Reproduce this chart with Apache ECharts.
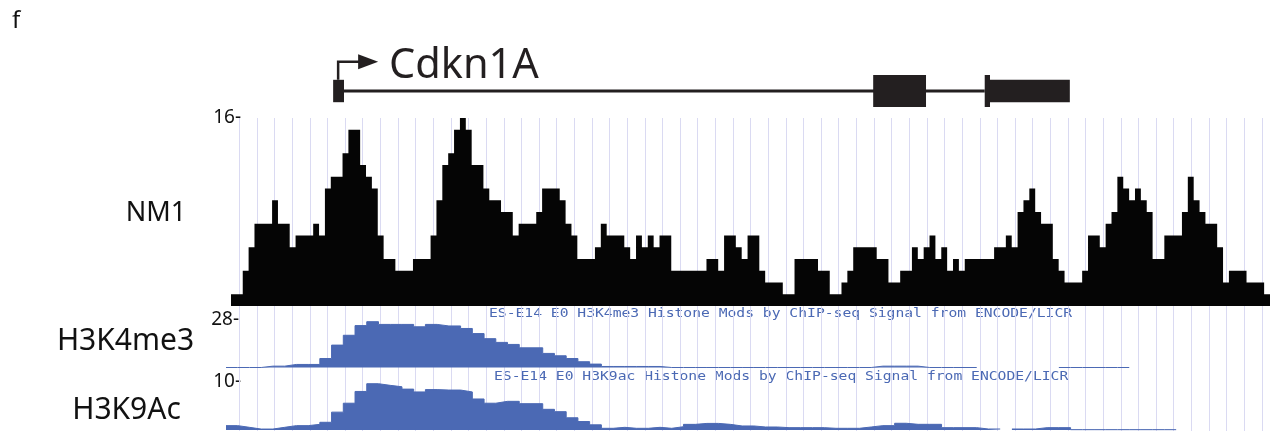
<!DOCTYPE html>
<html><head><meta charset="utf-8">
<script src="https://cdn.jsdelivr.net/npm/echarts@6/dist/echarts.min.js"></script>
<style>html,body{margin:0;padding:0;background:#fff}#c{width:1270px;height:431px}</style>
</head><body><div id="c"></div>
<script>
// NM1 signal, 177 equal bins
const nm1 = [1,1,3,5,7,7,7,9,7,7, 5,6,6,6,7,6,10,11,11,13, 15,15,12,11,10,6,4,4,3,3,
  3,4,4,4,6,9,12,13,15,16, 15,12,12,10,9,9,8,8,6,7, 7,7,8,10,10,10,9,7,6,4,
  4,4,5,7,6,6,6,5,4,6, 5,6,5,6,6,3,3,3,3,3, 3,4,4,3,6,6,5,4,6,6,
  3,2,2,2,1,1,4,4,4,4, 3,3,1,1,2,3,5,5,5,5, 4,4,2,2,3,3,5,4,5,6,
  4,5,3,4,3,4,4,4,4,4, 5,5,6,5,8,9,10,8,7,7, 4,3,2,2,2,3,6,6,5,7,
  8,11,10,9,10,9,8,4,4,6, 6,6,8,11,9,8,7,7,5,2, 3,3,3,2,2,2,1];
// ENCODE tracks, 89 equal bins (null = no data)
const h3k4me3 = [0,0,0,0.8,0.8,1.8,1.8,1.8,5.3,13.2, 19,24.7,27,25.4,25.4,25.4,24,25.4,24.5,24.5,
  23,20,17,14.8,13.6,11.6,11.6,8.3,6.9,5.3, 3.4,2,0.6,0.6,0.6,0.6,0.6,0,0,0,
  0,0,0,0,0,0,0,0,0,0, 0,0,0,0,0,0.8,0.8,0.8,0.8,0, 0,0,0,0,null,null,null,null,null,null,
  null,0,0,0,0,0,0,null,null,null, null,null,null,null,null,null,null,null,null];
const h3k9ac = [0.93,0.57,0.2,0.2,0.57,0.93,0.93,1.2,1.64,3.8, 5.7,8.2,9.85,9.5,9.2,8.7,8.1,8.6,8.5,8.5,
  8.1,6.6,5.7,6.1,6.1,5.6,5.6,4.4,3.9,2.6, 1.8,1.1,0.36,0.57,0.36,0.36,0.57,0.36,0.7,1.2,
  1.4,1.4,1.2,0.86,0.86,0.64,0.64,0.5,0.5,0.5, 0.5,0.36,0.36,0.36,0.64,0.93,0.93,1.43,1.21,1.21,
  1.21,0.5,0.5,0.5,0.21,0.21,null,0.21,0.21,0.5, 0.5,0.5,0.07,0.07,0.07,0.07,0.07,0.07,0.07,0.07,
  0.07,null,null,null,null,null,null,null,null];
const trackNames = ['NM1', 'H3K4me3', 'H3K9Ac'];
const trackMax = [16, 28, 10];
const tickLabels = ['16-', '28-', '10-'];
const encodeLabels = ['ES-E14 E0 H3K4me3 Histone Mods by ChIP-seq Signal from ENCODE/LICR',
  'ES-E14 E0 H3K9ac Histone Mods by ChIP-seq Signal from ENCODE/LICR'];
const panelLetter = 'f';
const geneName = 'Cdkn1A';
// gene model in NM1 bin units: [start, end, half-height]
const geneExons = [[17.4, 19.25, 0.7], [109.4, 118.4, 1], [128.4, 129.3, 1], [129.3, 142.9, 0.7]];
const geneIntron = [[19.25, 128.4, 0.1]];
const tss = [[17.4]];

const black = '#050505', blue = '#4b69b4', geneColor = '#231f20', gridColor = '#dadaf2';

function stepData(vals) {
  const out = [];
  for (let i = 0; i < vals.length; i++) {
    const v = vals[i];
    if (v == null) { out.push([i, null]); continue; }
    out.push([i, v]);
    if (i === vals.length - 1 || vals[i + 1] == null) out.push([i + 1, v]);
  }
  return out;
}

const chart = echarts.init(document.getElementById('c'), null, {renderer: 'canvas'});
const hidden = {show: false};
const option = {
  animation: false,
  grid: [
    {left: 231, width: 1039, top: 75, height: 32},
    {left: 231, width: 1039, top: 118, height: 188},
    {left: 226, width: 1044, top: 320, height: 47.5},
    {left: 226, width: 1044, top: 383, height: 47},
    {left: 239.3, width: 1030.7, top: 118, height: 313}
  ],
  xAxis: [
    {gridIndex: 0, type: 'value', min: 0, max: nm1.length, show: false},
    {gridIndex: 1, type: 'value', min: 0, max: nm1.length, show: false},
    {gridIndex: 2, type: 'value', min: 0, max: h3k4me3.length, show: false},
    {gridIndex: 3, type: 'value', min: 0, max: h3k9ac.length, show: false},
    {gridIndex: 4, type: 'value', min: 0, max: 58.46, interval: 1,
      axisLine: hidden, axisTick: hidden, axisLabel: hidden,
      splitLine: {show: true, lineStyle: {color: gridColor, width: 1}}}
  ],
  yAxis: [
    {gridIndex: 0, type: 'value', min: -1, max: 1, show: false},
    {gridIndex: 1, type: 'value', min: 0, max: trackMax[0], show: false},
    {gridIndex: 2, type: 'value', min: 0, max: trackMax[1], show: false},
    {gridIndex: 3, type: 'value', min: 0, max: trackMax[2], show: false},
    {gridIndex: 4, type: 'value', min: 0, max: 1, show: false}
  ],
  series: [
    {type: 'custom', xAxisIndex: 0, yAxisIndex: 0, data: geneIntron.concat(geneExons),
      encode: {x: [0, 1], y: 2},
      renderItem: function (params, api) {
        const s = api.value(0), e = api.value(1), h = api.value(2);
        const p0 = api.coord([s, h]), p1 = api.coord([e, -h]);
        return {type: 'rect', shape: {x: p0[0], y: p0[1], width: p1[0] - p0[0], height: p1[1] - p0[1]},
          style: {fill: geneColor}};
      }},
    {type: 'custom', xAxisIndex: 0, yAxisIndex: 0, data: tss, encode: {x: 0},
      renderItem: function (params, api) {
        const p = api.coord([api.value(0), 0.7]);
        const x = p[0] + 5, y0 = p[1], y1 = y0 - 18;
        return {type: 'group', children: [
          {type: 'polyline', shape: {points: [[x, y0], [x, y1], [x + 24, y1]]},
            style: {stroke: geneColor, lineWidth: 2.5, fill: null}},
          {type: 'polygon', shape: {points: [[x + 20, y1 - 7.5], [x + 40, y1], [x + 20, y1 + 7.5]]},
            style: {fill: geneColor}}
        ]};
      }},
    {type: 'line', xAxisIndex: 1, yAxisIndex: 1, data: stepData(nm1), step: 'end',
      showSymbol: false, lineStyle: {width: 0, color: black}, areaStyle: {color: black, opacity: 1}},
    {type: 'line', xAxisIndex: 2, yAxisIndex: 2, data: stepData(h3k4me3), step: 'end', clip: false,
      showSymbol: false, connectNulls: false, lineStyle: {width: 1, color: blue}, areaStyle: {color: blue, opacity: 1}},
    {type: 'line', xAxisIndex: 3, yAxisIndex: 3, data: stepData(h3k9ac), step: 'end', clip: false,
      showSymbol: false, connectNulls: false, lineStyle: {width: 1, color: blue}, areaStyle: {color: blue, opacity: 1}}
  ],
  graphic: [
    {type: 'text', left: 12, top: 9, style: {text: panelLetter, font: '24px "Noto Sans"', fill: '#111'}},
    {type: 'text', x: 389, y: 66, style: {text: geneName, font: '41.5px "Noto Sans"', fill: geneColor, verticalAlign: 'middle'}},
    {type: 'text', x: 156, y: 213, style: {text: trackNames[0], font: '27px "Noto Sans"', fill: '#111', align: 'center', verticalAlign: 'middle'}},
    {type: 'text', x: 125.5, y: 341, style: {text: trackNames[1], font: '30px "Noto Sans"', fill: '#111', align: 'center', verticalAlign: 'middle'}},
    {type: 'text', x: 126.5, y: 410, style: {text: trackNames[2], font: '30px "Noto Sans"', fill: '#111', align: 'center', verticalAlign: 'middle'}},
    {type: 'text', x: 241, y: 118, style: {text: tickLabels[0], font: '19px "Noto Sans"', fill: '#111', align: 'right', verticalAlign: 'middle'}},
    {type: 'text', x: 239, y: 320, style: {text: tickLabels[1], font: '19px "Noto Sans"', fill: '#111', align: 'right', verticalAlign: 'middle'}},
    {type: 'text', x: 241, y: 382, style: {text: tickLabels[2], font: '19px "Noto Sans"', fill: '#111', align: 'right', verticalAlign: 'middle'}},
    {type: 'text', x: 489, y: 314, scaleX: 1.276, style: {text: encodeLabels[0], font: '11.5px "DejaVu Sans Mono"', fill: blue, verticalAlign: 'middle'}},
    {type: 'text', x: 494, y: 377, scaleX: 1.276, style: {text: encodeLabels[1], font: '11.5px "DejaVu Sans Mono"', fill: blue, verticalAlign: 'middle'}}
  ]
};
chart.setOption(option);
</script></body></html>
